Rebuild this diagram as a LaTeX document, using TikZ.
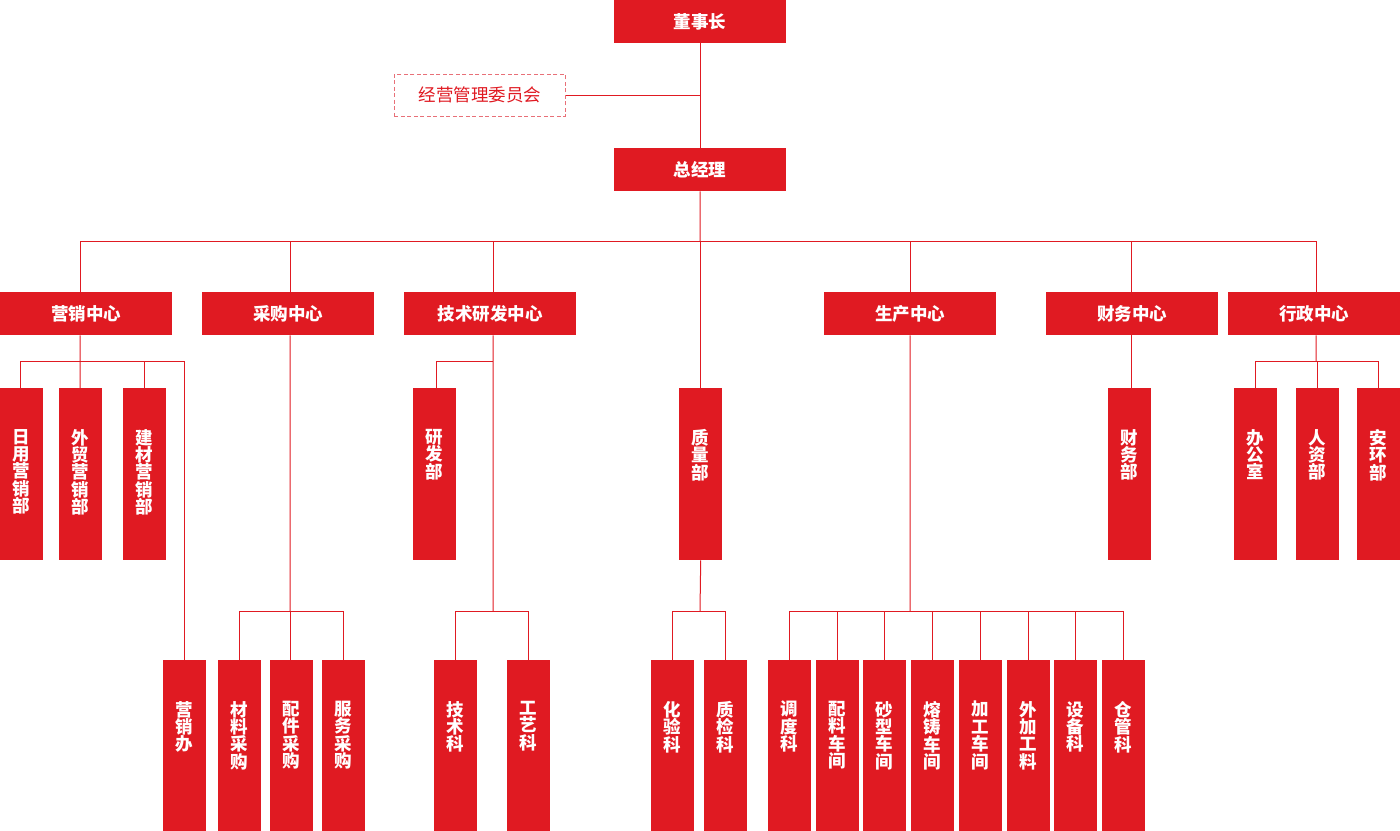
\documentclass[tikz,border=0pt]{standalone}
\usepackage{fontspec}
\newfontfamily\cjk{Noto Sans CJK SC}
\definecolor{boxred}{RGB}{224,26,34}
\definecolor{dashred}{RGB}{232,112,120}
\tikzset{
  base/.style={fill=boxred, draw=none, inner sep=0pt, anchor=north west, text=white},
  hbox/.style={base, minimum width=172pt, minimum height=43pt, font=\cjk\bfseries\fontsize{17.5}{20}\selectfont},
  vlab/.style={anchor=north, yshift=-41pt, align=center, inner sep=0pt, text=white, font=\cjk\bfseries\fontsize{17.5}{17.4}\selectfont},
  vbox/.style={base, minimum width=43pt, minimum height=172pt, label={[vlab]north:#1}},
  conn/.style={draw=boxred, line width=1pt},
  dashbox/.style={draw=dashred, dash pattern=on 4pt off 2.5pt, line width=1.6pt, fill=white, inner sep=0pt, anchor=north west, minimum width=171pt, minimum height=42pt, text=boxred, font=\cjk\fontsize{17.5}{20}\selectfont}
}
\begin{document}
\begin{tikzpicture}[x=1pt,y=-1pt]
\useasboundingbox (0,0) rectangle (1400,830);
% top level
\node[hbox] (dsz) at (614,0) {董事长};
\node[dashbox] (jyw) at (393.5,73.5) {经营管理委员会};
\node[hbox] (zjl) at (614,148) {总经理};
% centers
\node[hbox] (yx) at (0,292) {营销中心};
\node[hbox] (cg) at (202,292) {采购中心};
\node[hbox] (js) at (404,292) {技术研发中心};
\node[hbox] (sc) at (824,292) {生产中心};
\node[hbox] (cw) at (1046,292) {财务中心};
\node[hbox] (xz) at (1228,292) {行政中心};
% third row
\node[vbox={日\\用\\营\\销\\部}] (ry) at (0,388) {};
\node[vbox={外\\贸\\营\\销\\部}] (wm) at (59,388) {};
\node[vbox={建\\材\\营\\销\\部}] (jc) at (123,388) {};
\node[vbox={研\\发\\部}] (yf) at (413,388) {};
\node[vbox={质\\量\\部}] (zl) at (679,388) {};
\node[vbox={财\\务\\部}] (cwb) at (1108,388) {};
\node[vbox={办\\公\\室}] (bgs) at (1234,388) {};
\node[vbox={人\\资\\部}] (rz) at (1296,388) {};
\node[vbox={安\\环\\部}] (ah) at (1357,388) {};
% bottom row
\node[vbox={营\\销\\办}] (yxb) at (163,660) {};
\node[vbox={材\\料\\采\\购}] (clcg) at (218,660) {};
\node[vbox={配\\件\\采\\购}] (pjcg) at (270,660) {};
\node[vbox={服\\务\\采\\购}] (fwcg) at (322,660) {};
\node[vbox={技\\术\\科}] (jsk) at (434,660) {};
\node[vbox={工\\艺\\科}] (gyk) at (507,660) {};
\node[vbox={化\\验\\科}] (hyk) at (651,660) {};
\node[vbox={质\\检\\科}] (zjk) at (704,660) {};
\node[vbox={调\\度\\科}] (ddk) at (768,660) {};
\node[vbox={配\\料\\车\\间}] (plcj) at (816,660) {};
\node[vbox={砂\\型\\车\\间}] (sxcj) at (863,660) {};
\node[vbox={熔\\铸\\车\\间}] (rzcj) at (911,660) {};
\node[vbox={加\\工\\车\\间}] (jgcj) at (959,660) {};
\node[vbox={外\\加\\工\\料}] (wjgl) at (1007,660) {};
\node[vbox={设\\备\\科}] (sbk) at (1054,660) {};
\node[vbox={仓\\管\\科}] (cgk) at (1102,660) {};
% junction coordinates
\coordinate (bus) at (700,241);
\coordinate (yxbus) at (80,361);
\coordinate (jsbus) at (493,361);
\coordinate (xzbus) at (1316,361);
\coordinate (cgbus) at (290,611);
\coordinate (jsbus2) at (493,611);
\coordinate (zlbus) at (700,611);
\coordinate (scbus) at (910,611);
% connectors
\path[conn] (dsz.south) -- (zjl.north);
\path[conn] (jyw.east) -- (jyw.east -| dsz.south);
\path[conn] (zjl.south) -- (bus);
\path[conn] ([xshift=-6pt]yx.north) |- (bus);
\path[conn] ([xshift=2pt]cg.north) |- (bus);
\path[conn] ([xshift=3pt]js.north) |- (bus);
\path[conn] (zl.north) -- (zl.north |- bus);
\path[conn] (sc.north) |- (bus);
\path[conn] ([xshift=-1pt]cw.north) |- (bus);
\path[conn] ([xshift=2pt]xz.north) |- (bus);
% marketing
\path[conn] ([xshift=-6pt]yx.south) -- (yxbus);
\path[conn] ([xshift=-1.5pt]ry.north) |- (yxbus);
\path[conn] ([xshift=-0.5pt]wm.north) -- (yxbus);
\path[conn] (jc.north) |- (yxbus);
\path[conn] (yxb.north) |- (yxbus);
% purchasing
\path[conn] ([xshift=2pt]cg.south) -- (cgbus);
\path[conn] (clcg.north) |- (cgbus);
\path[conn] ([xshift=-1.5pt]pjcg.north) -- ([xshift=-1.5pt]pjcg.north |- cgbus);
\path[conn] (fwcg.north) |- (cgbus);
% tech
\path[conn] ([xshift=3pt]js.south) -- (jsbus2);
\path[conn] ([xshift=1.5pt]yf.north) |- (jsbus);
\path[conn] (jsk.north) |- (jsbus2);
\path[conn] (gyk.north) |- (jsbus2);
% quality
\path[conn] (zl.south) -- (zlbus);
\path[conn] (hyk.north) |- (zlbus);
\path[conn] (zjk.north) |- (zlbus);
% production
\path[conn] (sc.south) -- (scbus);
\foreach \n in {ddk,plcj,sxcj,rzcj,jgcj,wjgl,sbk,cgk}{
  \path[conn] (\n.north) |- (scbus);
}
% finance
\path[conn] ([xshift=-1pt]cw.south) -- ([xshift=-1pt]cw.south |- cwb.north);
% admin
\path[conn] ([xshift=2pt]xz.south) -- (xzbus);
\path[conn] (bgs.north) |- (xzbus);
\path[conn] (rz.north) -- (rz.north |- xzbus);
\path[conn] (ah.north) |- (xzbus);
\end{tikzpicture}
\end{document}
